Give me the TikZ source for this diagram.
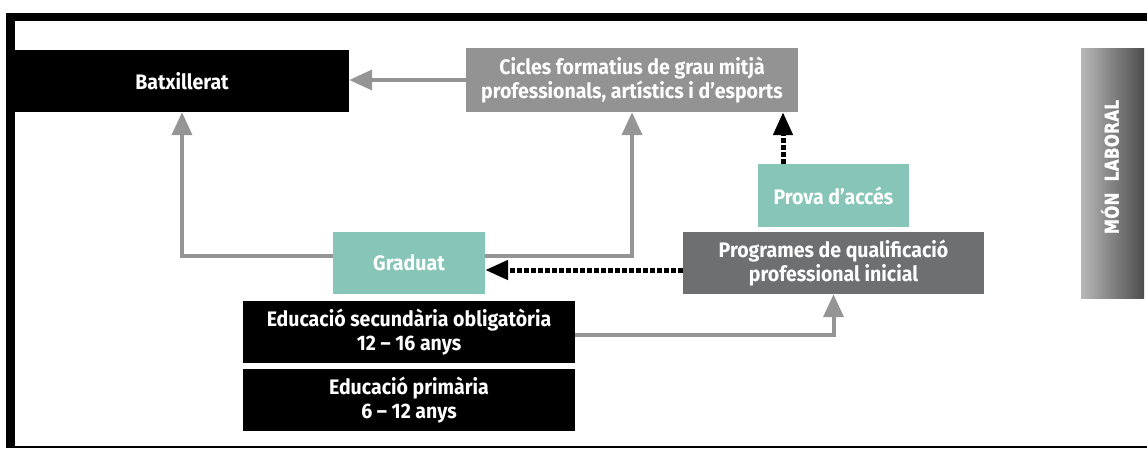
\documentclass[tikz,border=0pt]{standalone}
\usepackage{fontspec}
\setmainfont{Fira Sans}[FakeStretch=0.93]
\newfontfamily\laboralfont{DejaVu Sans}[FakeStretch=0.8,FakeBold=1.5,LetterSpace=2]
\usetikzlibrary{arrows.meta}
\definecolor{arrowgray}{HTML}{959595}
\definecolor{ciclegray}{HTML}{939393}
\definecolor{pqpigray}{HTML}{6E6F71}
\definecolor{graduatgreen}{HTML}{86C5B7}

\begin{document}
\begin{tikzpicture}[x=1pt,y=-1pt,
  box/.style={rectangle,inner sep=0pt,minimum height=62pt,text=white,align=center,
    font=\bfseries\fontsize{21}{24.5}\selectfont},
  greyarrow/.style={draw=arrowgray,line width=4pt,-{Triangle[width=20pt,length=23pt]}},
  dotarrow/.style={draw=black,line width=5pt,dash pattern=on 4.5pt off 2.5pt,-{Triangle[width=19pt,length=23pt]}}]
\useasboundingbox (0,0) rectangle (1147,448);
\draw[line width=8.5pt] (10.5,448) -- (10.5,17) -- (1147,17);
\draw[line width=1.5pt] (6,447.2) -- (1147,447.2);
\node[box,fill=black,minimum width=334pt] (batx) at (182,81) {Batxillerat};
\node[box,fill=ciclegray,minimum width=332pt,minimum height=64pt] (cicles) at (632,80) {Cicles formatius de grau mitjà\\professionals, artístics i d'esports};
\node[box,fill=graduatgreen,minimum width=152pt] (graduat) at (409,263) {Graduat};
\node[box,fill=graduatgreen,minimum width=151pt,minimum height=63pt] (prova) at (833.5,195.5) {Prova d'accés};
\node[box,fill=pqpigray,minimum width=301pt] (pqpi) at (833.5,263) {Programes de qualificació\\professional inicial};
\node[box,fill=black,minimum width=332pt] (eso) at (409,332) {Educació secundària obligatòria\\12 -- 16 anys};
\node[box,fill=black,minimum width=332pt] (primaria) at (409,400) {Educació primària\\6 -- 12 anys};
\node[inner sep=0pt,minimum width=63pt,minimum height=250pt,left color=black!28,right color=black!70] (laboral) at (1112.5,173) {};
\node[rotate=90,inner sep=0pt,text=white,font=\laboralfont\bfseries\fontsize{19}{19}\selectfont] (laboraltext) at (1110,167) {MÓN\ \ LABORAL};
\draw[greyarrow] (cicles.west) -- (batx.east |- cicles.west);
\draw[greyarrow] ([yshift=7pt]graduat.west) -| (batx.south);
\draw[greyarrow] ([yshift=7pt]graduat.east) -| (cicles.south);
\draw[greyarrow] ([yshift=-3pt]eso.east) -| (pqpi.south);
\draw[dotarrow] ([yshift=-7pt]pqpi.west) -- ([yshift=-7pt]graduat.east);
\draw[dotarrow] ([xshift=-50.5pt]prova.north) -- ([xshift=-50.5pt]prova.north |- cicles.south);
\end{tikzpicture}
\end{document}
